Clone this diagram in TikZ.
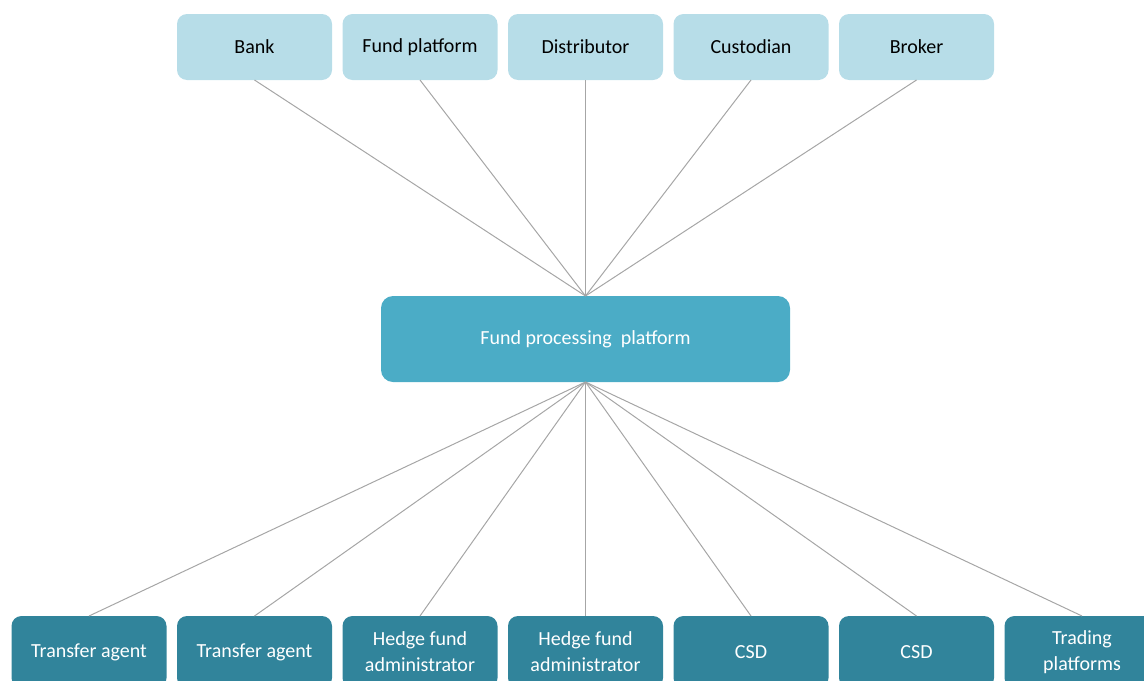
\documentclass[tikz,border=0pt]{standalone}
\usepackage{fontspec}
\setmainfont{Carlito}
\usepackage{tikz}
\usetikzlibrary{positioning, calc}

\definecolor{toplight}{HTML}{B7DDE8}
\definecolor{midblue}{HTML}{4BACC6}
\definecolor{lowteal}{HTML}{31849B}
\definecolor{linkgray}{HTML}{A6A6A6}

\begin{document}
\begin{tikzpicture}[x=0.5pt, y=-0.5pt, every node/.style={font=\fontsize{10}{13}\selectfont, outer sep=0pt}]
% Styles
\tikzstyle{party} = [rectangle, rounded corners=5pt, minimum width=77.5pt, minimum height=33pt, inner sep=2pt, text centered, align=center, fill=toplight, text=black]
\tikzstyle{hub} = [rectangle, rounded corners=6pt, minimum width=204.5pt, minimum height=43pt, text centered, align=center, fill=midblue, text=white]
\tikzstyle{service} = [rectangle, rounded corners=5pt, minimum width=77.5pt, minimum height=36pt, inner sep=2pt, text centered, align=center, fill=lowteal, text=white]
\tikzstyle{link} = [draw=linkgray, line width=0.5pt]

\useasboundingbox (0,0) rectangle (1144,680);
\clip (0,0) rectangle (1144,680);

% top row
\node (bank) [party] at (254.5,47) {Bank};
\node (fundplat) [party, right=5.25pt of bank] {Fund platform};
\node (distrib) [party, right=5.25pt of fundplat] {Distributor};
\node (custod) [party, right=5.25pt of distrib] {Custodian};
\node (broker) [party, right=5.25pt of custod] {Broker};

% centre
\node (fpp) [hub] at (585.5,339) {Fund processing\ \ platform};

% bottom row
\node (ta1) [service] at (89,652) {Transfer agent};
\node (ta2) [service, right=5.25pt of ta1] {Transfer agent};
\node (hfa1) [service, right=5.25pt of ta2] {Hedge fund\\administrator};
\node (hfa2) [service, right=5.25pt of hfa1] {Hedge fund\\administrator};
\node (csd1) [service, right=5.25pt of hfa2] {CSD};
\node (csd2) [service, right=5.25pt of csd1] {CSD};
\node (trade) [service, right=5.25pt of csd2] {Trading\\platforms};

\draw [link] (bank.south) -- (fpp.north);
\draw [link] (fundplat.south) -- (fpp.north);
\draw [link] (distrib.south) -- (fpp.north);
\draw [link] (custod.south) -- (fpp.north);
\draw [link] (broker.south) -- (fpp.north);

\draw [link] (fpp.south) -- (ta1.north);
\draw [link] (fpp.south) -- (ta2.north);
\draw [link] (fpp.south) -- (hfa1.north);
\draw [link] (fpp.south) -- (hfa2.north);
\draw [link] (fpp.south) -- (csd1.north);
\draw [link] (fpp.south) -- (csd2.north);
\draw [link] (fpp.south) -- (trade.north);

\end{tikzpicture}
\end{document}
